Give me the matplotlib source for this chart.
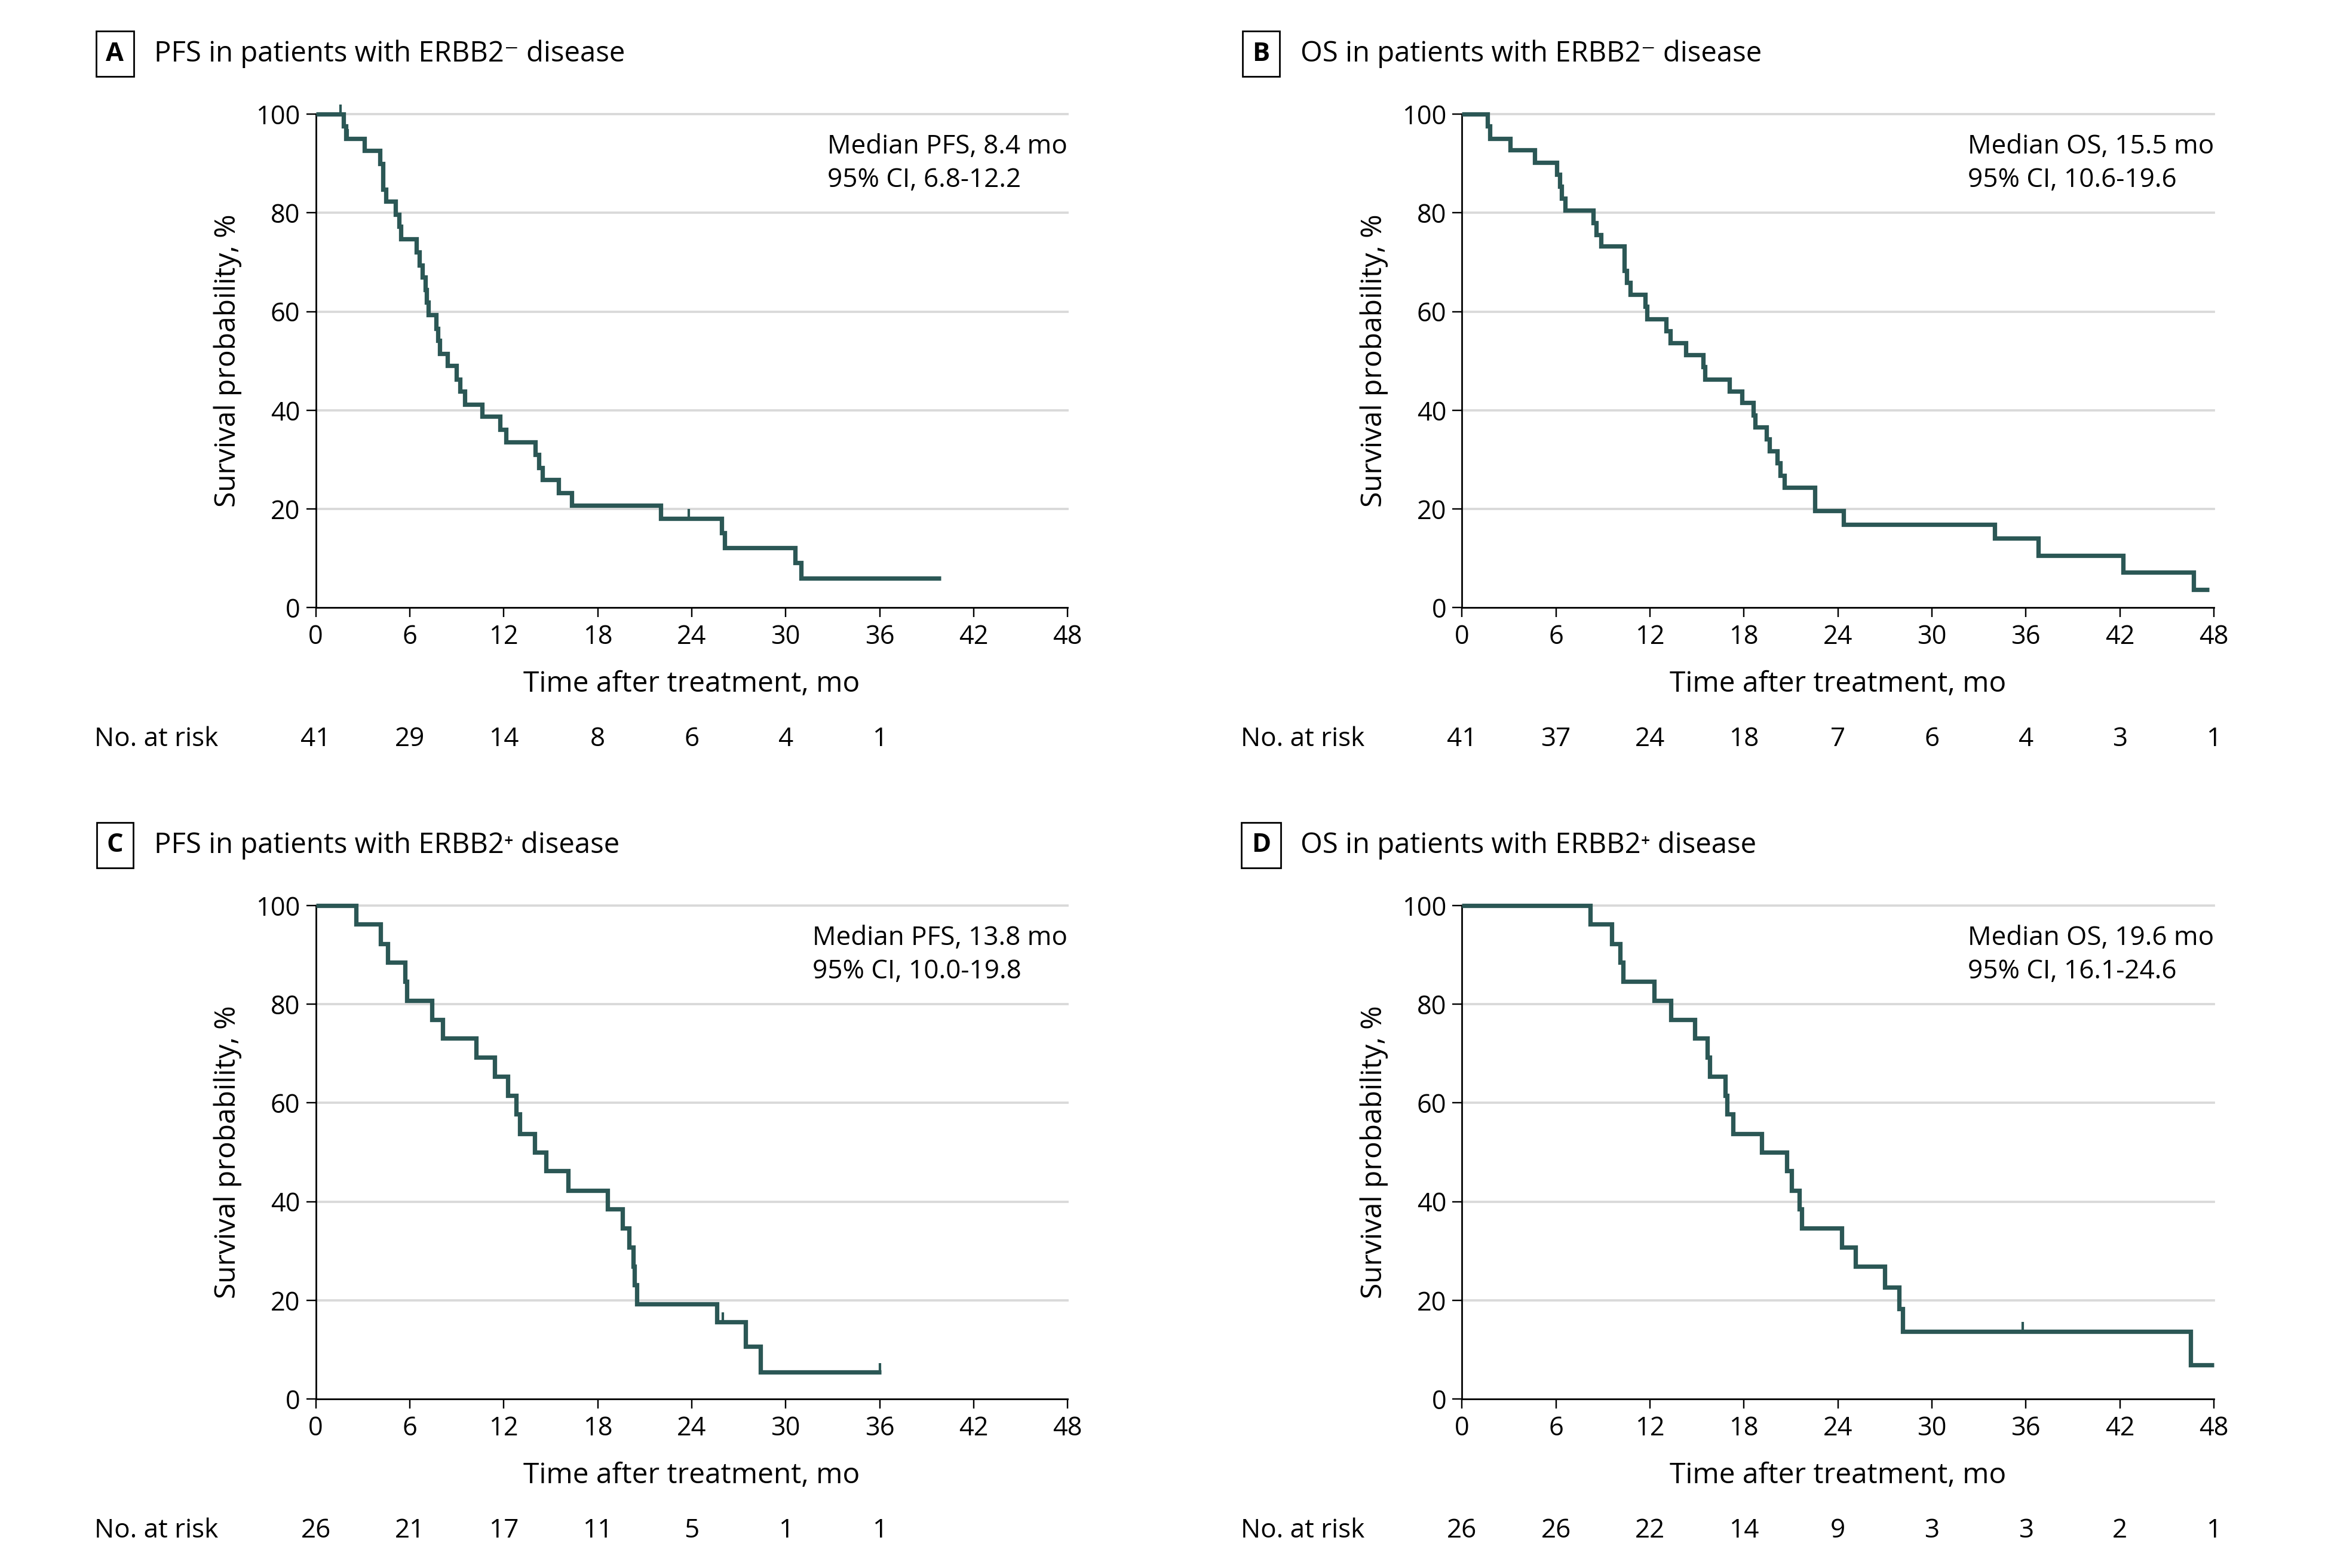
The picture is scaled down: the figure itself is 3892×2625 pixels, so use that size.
import matplotlib
matplotlib.use("Agg")
import matplotlib.pyplot as plt
from matplotlib import font_manager
from matplotlib.transforms import blended_transform_factory

names = {f.name for f in font_manager.fontManager.ttflist}
base = "Open Sans" if "Open Sans" in names else "DejaVu Sans"
plt.rcParams["font.family"] = [base, "DejaVu Sans"]
plt.rcParams["font.size"] = 12.5

LINE = "#2b5755"
GRID = "#d9d9d9"

months = [0, 6, 12, 18, 24, 30, 36, 42, 48]

# A: PFS, ERBB2- disease
a_time = [0, 1.79, 1.91, 3.10, 4.09, 4.30, 4.48, 5.08, 5.33, 5.45, 6.44, 6.61, 6.82,
          6.99, 7.09, 7.19, 7.67, 7.79, 7.93, 8.39, 8.98, 9.20, 9.51, 10.62, 11.76,
          12.15, 14.03, 14.23, 14.49, 15.51, 16.33, 22.02, 25.9, 26.1, 30.6, 31.0]
a_surv = [100, 97.6, 95.1, 92.6, 90.0, 84.8, 82.3, 79.7, 77.2, 74.7, 72.0, 69.4, 67.0,
          64.4, 61.9, 59.3, 56.6, 54.1, 51.5, 49.0, 46.3, 43.8, 41.2, 38.7, 36.1,
          33.6, 31.0, 28.4, 25.9, 23.3, 20.7, 18.1, 15.1, 12.1, 9.1, 6.0]
a_end = 39.9
a_cens_t = [1.6, 2.05, 23.8]
a_cens_s = [100, 95.1, 18.1]
a_risk = [41, 29, 14, 8, 6, 4, 1]

# B: OS, ERBB2- disease
b_time = [0, 1.62, 1.79, 3.07, 4.64, 6.05, 6.26, 6.36, 6.57, 8.36, 8.56, 8.87, 10.37,
          10.52, 10.75, 11.68, 11.80, 13.05, 13.30, 14.29, 15.40, 15.52, 17.06, 17.87,
          18.59, 18.73, 19.44, 19.61, 20.13, 20.30, 20.59, 22.51, 24.35, 34.0, 36.8,
          42.2, 46.7]
b_surv = [100, 97.6, 95.1, 92.7, 90.2, 87.8, 85.4, 82.9, 80.5, 78.0, 75.6, 73.2, 68.3,
          65.9, 63.4, 61.0, 58.5, 56.1, 53.7, 51.2, 48.8, 46.3, 43.9, 41.5,
          39.0, 36.6, 34.1, 31.7, 29.3, 26.8, 24.4, 19.6, 16.9, 14.1, 10.6,
          7.2, 3.6]
b_end = 47.7
b_cens_t = []
b_cens_s = []
b_risk = [41, 37, 24, 18, 7, 6, 4, 3, 1]

# C: PFS, ERBB2+ disease
c_time = [0, 2.59, 4.14, 4.60, 5.71, 5.80, 7.41, 8.10, 10.23, 11.42, 12.27, 12.78,
          13.04, 13.98, 14.71, 16.11, 18.61, 19.57, 19.99, 20.25, 20.33, 20.49, 25.6,
          27.45, 28.4]
c_surv = [100, 96.2, 92.3, 88.5, 84.6, 80.8, 76.9, 73.1, 69.2, 65.4, 61.5, 57.7,
          53.8, 50.0, 46.2, 42.3, 38.5, 34.6, 30.8, 26.9, 23.1, 19.2, 15.6,
          10.6, 5.4]
c_end = 36.1
c_cens_t = [26.0, 36.0]
c_cens_s = [15.6, 5.4]
c_risk = [26, 21, 17, 11, 5, 1, 1]

# D: OS, ERBB2+ disease
d_time = [0, 8.19, 9.55, 10.11, 10.28, 12.25, 13.35, 14.87, 15.66, 15.81, 16.80,
          16.94, 17.31, 19.15, 20.72, 21.03, 21.53, 21.70, 24.25, 25.11, 27.0, 27.89,
          28.12, 46.5]
d_surv = [100, 96.2, 92.3, 88.5, 84.6, 80.8, 76.9, 73.1, 69.2, 65.4, 61.5,
          57.7, 53.8, 50.0, 46.2, 42.3, 38.5, 34.6, 30.8, 26.9, 22.7, 18.3,
          13.7, 6.9]
d_end = 48
d_cens_t = [35.8]
d_cens_s = [13.7]
d_risk = [26, 26, 22, 14, 9, 3, 3, 2, 1]

panels = [
    ("A", "PFS in patients with ERBB2\u207b disease", a_time, a_surv, a_end, a_cens_t, a_cens_s, a_risk,
     "Median PFS, 8.4 mo\n95% CI, 6.8-12.2"),
    ("B", "OS in patients with ERBB2\u207b disease", b_time, b_surv, b_end, b_cens_t, b_cens_s, b_risk,
     "Median OS, 15.5 mo\n95% CI, 10.6-19.6"),
    ("C", "PFS in patients with ERBB2\u207a disease", c_time, c_surv, c_end, c_cens_t, c_cens_s, c_risk,
     "Median PFS, 13.8 mo\n95% CI, 10.0-19.8"),
    ("D", "OS in patients with ERBB2\u207a disease", d_time, d_surv, d_end, d_cens_t, d_cens_s, d_risk,
     "Median OS, 19.6 mo\n95% CI, 16.1-24.6"),
]

fig = plt.figure(figsize=(15.568, 10.5), dpi=250)

lefts = [0.1358, 0.6288, 0.1358, 0.6288]
bottoms = [0.6125, 0.6125, 0.1078, 0.1078]
width, height = 0.3234, 0.3147

for i, (letter, title, t, s, end, ct, cs, risk, note) in enumerate(panels):
    ax = fig.add_axes([lefts[i], bottoms[i], width, height])
    ax.set_xlim(0, 48)
    ax.set_ylim(0, 100)
    ax.set_xticks(months)
    ax.set_yticks([0, 20, 40, 60, 80, 100])
    for y in [20, 40, 60, 80, 100]:
        ax.axhline(y, color=GRID, lw=1.1, zorder=0, clip_on=False)
    for side in ["top", "right"]:
        ax.spines[side].set_visible(False)
    for side in ["left", "bottom"]:
        ax.spines[side].set_linewidth(0.8)
    ax.tick_params(direction="out", length=4.5, width=0.7, labelsize=12.5)
    ax.tick_params(axis="x", pad=3.5)
    ax.tick_params(axis="y", pad=3)

    ax.step(list(t) + [end], list(s) + [s[-1]], where="post", color=LINE, lw=2.1,
            solid_joinstyle="miter", solid_capstyle="butt", clip_on=False, zorder=3)
    if ct:
        ax.vlines(ct, [v - 0.3 for v in cs], [v + 1.9 for v in cs], color=LINE, lw=1.2,
                  clip_on=False, zorder=3)

    ax.text(1.0, 0.90, note, transform=ax.transAxes, ha="right", va="center",
            multialignment="left", fontsize=12.7, linespacing=1.35)

    ax.yaxis.set_label_coords(-0.098, 0.5)
    ax.set_ylabel("Survival probability, %", fontsize=13.8)
    ax.text(0.5, -0.155, "Time after treatment, mo", transform=ax.transAxes,
            ha="center", va="center", fontsize=13.8)

    tr = blended_transform_factory(ax.transData, ax.transAxes)
    for m, n in zip(months, risk):
        ax.text(m, -0.267, str(n), transform=tr, ha="center", va="center", fontsize=12.7)
    ax.text(-0.294, -0.267, "No. at risk", transform=ax.transAxes, ha="left",
            va="center", fontsize=12.7)

    x0 = lefts[i] - 0.0864
    ytitle = bottoms[i] + height + 0.0385
    fig.text(x0, ytitle, letter, ha="center", va="center", fontsize=12.5, fontweight="bold",
             bbox=dict(boxstyle="square,pad=0.38", fc="white", ec="black", lw=0.8))
    fig.text(x0 + 0.0169, ytitle, title, ha="left", va="center", fontsize=13.6)

fig.savefig("out.png", dpi=250, facecolor="white")
